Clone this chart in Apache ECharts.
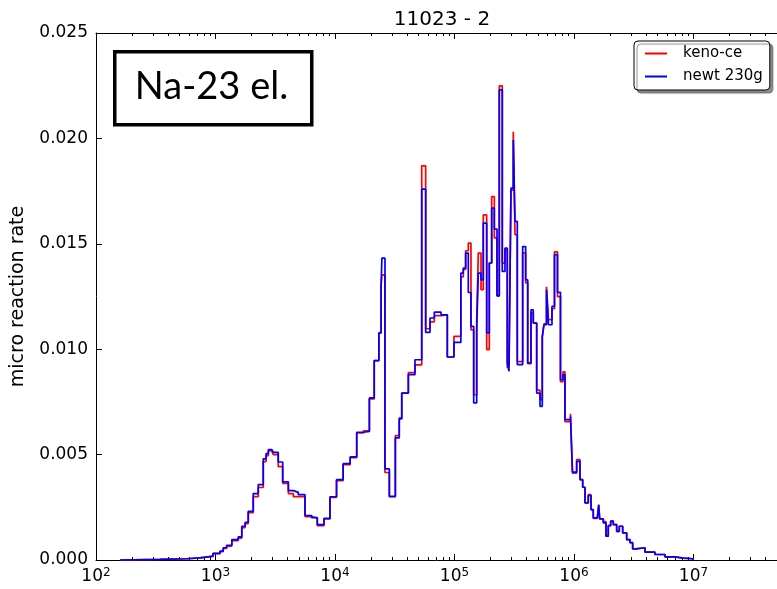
<!DOCTYPE html>
<html><head><meta charset="utf-8">
<script src="https://cdn.jsdelivr.net/npm/echarts@6/dist/echarts.min.js"></script>
<style>html,body{margin:0;padding:0;background:#fff}#c{width:777px;height:589px}</style>
</head><body><div id="c"></div>
<script>
// bin edges (eV)
var edges = [159,343,577,742,953,1090,1160,1240,1370,1550,1660,1770,1880,2070,2280,2510,2650,2770,2950,3050,
3350,3650,4070,4480,4930,5610,6380,7110,8090,9080,10300,11700,13400,15200,17300,19400,21300,23300,24300,24700,
26200,28500,32000,34500,36200,41100,46700,53200,57400,62400,67800,77100,87100,99000,113000,118500,124000,130500,137400,144800,
153400,158200,166700,174200,186000,195600,204800,215400,226900,237100,251200,264600,276600,285800,297000,310500,320900,335400,372000,394000,
410000,437000,456500,487500,519400,542900,561000,588800,611900,654500,686800,727700,770900,808900,840700,934800,971400,1053000,1123000,1183000,
1236000,1317000,1388000,1450000,1567000,1610000,1641000,1759000,1853000,1936000,2028000,2132000,2277000,2394000,2556000,2761000,2941000,3098000,3303000,3929000,
4762000,5773000,7000000,8214000,9904000];
// newt 230g (blue)
var newt = [0.00003,0.00006,0.0001,0.00018,0.00031,0.00042,0.00058,0.0007,0.00097,0.0011,0.0016,0.00179,0.00231,0.00315,0.00358,0.0048,0.00505,0.00524,0.00516,0.00511,
0.00465,0.00371,0.00329,0.00321,0.0031,0.00211,0.00201,0.00168,0.00197,0.003,0.00381,0.00457,0.00489,0.00606,0.0061,0.00769,0.00946,0.01077,0.01298,0.01432,
0.00432,0.00302,0.00579,0.00669,0.00792,0.00879,0.0095,0.01759,0.0108,0.01148,0.01176,0.01163,0.00963,0.01032,0.01361,0.01385,0.01456,0.01269,0.01108,0.00745,
0.01092,0.01361,0.01329,0.01598,0.01077,0.01409,0.01669,0.0157,0.01253,0.0223,0.01369,0.0148,0.00935,0.00895,0.01764,0.01993,0.01606,0.00927,0.01487,0.01329,
0.00935,0.01187,0.01124,0.00792,0.00729,0.01057,0.01116,0.01282,0.01116,0.01203,0.01448,0.0127,0.00855,0.00879,0.00666,0.00681,0.00413,0.00468,0.00381,0.00345,
0.00271,0.00306,0.00239,0.002,0.00193,0.00263,0.00195,0.00176,0.00113,0.00163,0.00184,0.00168,0.00136,0.0016,0.00129,0.00097,0.00082,0.00053,0.00058,0.00037,
0.00026,0.00015,0.00009,0.00006];
// keno-ce (red)
var keno = [0.00003,0.00006,0.0001,0.00017,0.0003,0.0004,0.00055,0.00066,0.00092,0.00104,0.00154,0.00173,0.00225,0.00301,0.00344,0.00467,0.00495,0.00519,0.00514,0.005,
0.00443,0.00363,0.00315,0.00301,0.00301,0.00206,0.00199,0.00163,0.00195,0.00297,0.00377,0.00452,0.00486,0.00603,0.00613,0.00764,0.00946,0.01077,0.0130,0.01353,
0.00415,0.003,0.0059,0.00674,0.00792,0.00889,0.00926,0.0187,0.01097,0.0113,0.01159,0.01163,0.00963,0.01061,0.01343,0.01378,0.01467,0.01503,0.01092,0.00784,
0.0113,0.01456,0.01282,0.01637,0.00998,0.01409,0.01724,0.01528,0.01253,0.02249,0.01408,0.01472,0.00912,0.00922,0.01755,0.02032,0.01543,0.00941,0.01457,0.01315,
0.00931,0.01173,0.01124,0.00806,0.00761,0.0106,0.0112,0.01296,0.0114,0.01192,0.01462,0.01249,0.00846,0.00893,0.00656,0.00694,0.00418,0.00476,0.00381,0.00345,
0.00271,0.0031,0.00239,0.00197,0.00193,0.00258,0.00195,0.00182,0.00113,0.00163,0.00184,0.00168,0.00136,0.0016,0.00129,0.00097,0.00082,0.00053,0.00058,0.00037,
0.00026,0.00015,0.00009,0.00006];
var majorTicks = [100,1e3,1e4,1e5,1e6,1e7];
var minorTicks = [];
[100,1e3,1e4,1e5,1e6,1e7].forEach(function(d){for(var k=2;k<=9;k++){if(d*k<5e7)minorTicks.push(d*k);}});
var yTicks = [0, 0.005, 0.01, 0.015, 0.02, 0.025];

function stepPts(vals){
  var pts=[[edges[0],0]];
  for(var i=0;i<vals.length;i++){pts.push([edges[i],vals[i]]);pts.push([edges[i+1],vals[i]]);}
  pts.push([edges[vals.length],0]);
  return pts;
}
var font='DejaVu Sans';
var chart=echarts.init(document.getElementById('c'),null,{renderer:'canvas'});
function xAx(pos, major, labels){
  return {type:'log',logBase:10,min:100,max:5e7,position:pos,gridIndex:0,
    axisLine:{show:major,lineStyle:{color:'#000',width:1}},
    splitLine:{show:false},
    axisTick:{show:true,inside:true,length:major?6:3,lineStyle:{color:'#000',width:1},customValues:major?majorTicks:minorTicks},
    axisLabel:{show:labels,customValues:majorTicks,margin:7,color:'#000',
      formatter:function(v){return '{b|10}{e|'+Math.round(Math.log10(v))+'}';},
      rich:{b:{fontFamily:font,fontSize:17,color:'#000',lineHeight:20},e:{fontFamily:font,fontSize:12,color:'#000',lineHeight:12,verticalAlign:'top'}}}
  };
}
chart.setOption({
  animation:false,
  backgroundColor:'#fff',
  title:{text:'11023 - 2',left:437,top:5,textAlign:'center',textStyle:{fontFamily:font,fontSize:20,fontWeight:'normal',color:'#000'}},
  grid:{left:96,top:33,right:0,bottom:29,containLabel:false},
  legend:{data:['keno-ce','newt 230g'],orient:'vertical',left:634,top:41,
    icon:'rect',itemWidth:22,itemHeight:2,itemGap:8,padding:[5,7,6,11],
    backgroundColor:'#fff',borderColor:'#000',borderWidth:1,borderRadius:4,
    shadowColor:'rgba(0,0,0,0.45)',shadowBlur:1,shadowOffsetX:3,shadowOffsetY:3,
    textStyle:{fontFamily:font,fontSize:15,color:'#000',padding:[0,0,0,11]}},
  xAxis:[xAx('bottom',true,true),xAx('bottom',false,false),xAx('top',true,false),xAx('top',false,false)],
  yAxis:[{type:'value',min:0,max:0.025,interval:0.005,position:'left',
    name:'micro reaction rate',nameLocation:'middle',nameGap:68,nameRotate:90,
    nameTextStyle:{fontFamily:font,fontSize:19,color:'#000'},
    axisLine:{show:true,lineStyle:{color:'#000'}},splitLine:{show:false},
    axisTick:{inside:true,length:6,lineStyle:{color:'#000'}},
    axisLabel:{margin:8,fontFamily:font,fontSize:17,color:'#000',formatter:function(v){return v.toFixed(3);}}}],
  series:[
    {name:'keno-ce',type:'line',xAxisIndex:0,yAxisIndex:0,data:stepPts(keno),showSymbol:false,symbol:'none',
      lineStyle:{color:'#ff0000',width:1.7},itemStyle:{color:'#ff0000'},z:2},
    {name:'newt 230g',type:'line',xAxisIndex:0,yAxisIndex:0,data:stepPts(newt),showSymbol:false,symbol:'none',
      lineStyle:{color:'#0000ff',width:1.7},itemStyle:{color:'#0000ff'},z:3}
  ],
  graphic:[
    {type:'rect',left:113,top:50,shape:{width:197,height:73},style:{fill:'#fff',stroke:'#000',lineWidth:3.5},z:10},
    {type:'text',x:211.5,y:87,style:{text:'Na-23 el.',fontFamily:'Lato',fontSize:38,fill:'#000',textAlign:'center',textVerticalAlign:'middle'},z:11}
  ]
});
</script></body></html>
